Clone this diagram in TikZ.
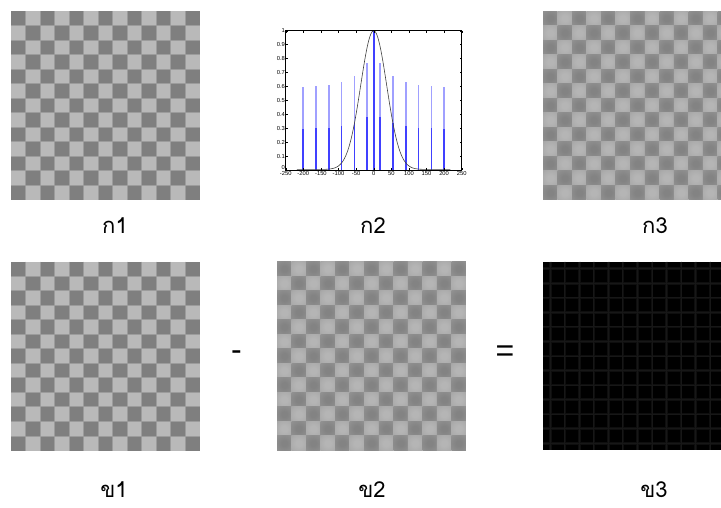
\documentclass[tikz,border=0pt]{standalone}
\usepackage{fontspec}
\setmainfont{Liberation Sans}
\newfontfamily\thaifont[Script=Thai]{Loma}
\definecolor{chkD}{HTML}{7F7F7F}
\definecolor{chkL}{HTML}{B9B9B9}
\definecolor{chkM}{HTML}{9C9C9C}
\definecolor{bD}{HTML}{838383}
\definecolor{bDm}{HTML}{8D8D8D}
\definecolor{bL}{HTML}{B5B5B5}
\definecolor{bLm}{HTML}{ACACAC}
\definecolor{bM}{HTML}{9C9C9C}
\definecolor{spLc}{HTML}{A0A0FF}
\definecolor{spDc}{HTML}{4040FF}
\definecolor{gridA}{HTML}{0E0E0E}
\definecolor{gridB}{HTML}{171717}
\pgfdeclareradialshading{bdark}{\pgfpoint{0bp}{0bp}}{color(0bp)=(bD); color(10bp)=(bD); color(28bp)=(bDm); color(50bp)=(bM); color(72bp)=(bM)}
\pgfdeclareradialshading{blight}{\pgfpoint{0bp}{0bp}}{color(0bp)=(bL); color(10bp)=(bL); color(28bp)=(bLm); color(50bp)=(bM); color(72bp)=(bM)}
\tikzset{
  lbl/.style={font=\thaifont\fontsize{22}{26}\selectfont, inner sep=0pt},
  opsym/.style={font=\fontsize{32}{36}\selectfont, inner sep=0pt},
  tick/.style={font=\fontsize{5.8}{6}\selectfont, inner sep=0.6pt},
  axisline/.style={line width=0.5pt, black},
  spL/.style={line width=1.6pt, spLc},
  spD/.style={line width=1.6pt, spDc},
  gauss/.style={line width=0.6pt, black!75},
}
\def\sq{14.538}
\begin{document}
\begin{tikzpicture}[x=1pt,y=-1pt]
\useasboundingbox (0,0) rectangle (721,507);
\fill[white] (0,0) rectangle (721,507);
% ---------- sharp checkerboards (k1, kh1)
\foreach \ox/\oy in {11/11, 11/261.5}{
  \begin{scope}
  \fill[chkL] (\ox,\oy) rectangle ++(189,189);
  \foreach \i in {0,...,12}{\foreach \j in {0,...,12}{
    \pgfmathtruncatemacro\p{mod(\i+\j,2)}
    \ifnum\p=0 \fill[chkD] ({\ox+\i*\sq},{\oy+\j*\sq}) rectangle ++(\sq,\sq);\fi
  }}
  \foreach \i in {1,...,12}{
    \draw[chkM, line width=0.9pt] ({\ox+\i*\sq},\oy) -- ++(0,189);
    \draw[chkM, line width=0.9pt] (\ox,{\oy+\i*\sq}) -- ++(189,0);
  }
  \end{scope}
}
% ---------- blurred checkerboards (k3, kh2)
\foreach \ox/\oy in {543/11, 277/261.5}{
  \begin{scope}
  \clip (\ox,\oy) rectangle ({min(\ox+189,721)},{\oy+189});
  \foreach \i in {0,...,12}{\foreach \j in {0,...,12}{
    \pgfmathtruncatemacro\p{mod(\i+\j,2)}
    \ifnum\p=0 \shade[shading=bdark] ({\ox+\i*\sq},{\oy+\j*\sq}) rectangle ++(\sq,\sq);
    \else \shade[shading=blight] ({\ox+\i*\sq},{\oy+\j*\sq}) rectangle ++(\sq,\sq);\fi
  }}
  \end{scope}
}
% ---------- difference image (kh3)
\begin{scope}
  \clip (543,261.5) rectangle (721,449.5);
  \fill[black] (543,261.5) rectangle (721,449.5);
  \foreach \i in {0,...,12}{
    \draw[gridA, line width=2.6pt] ({543+7.27+\i*\sq},261.5) -- ++(0,189);
    \draw[gridA, line width=2.6pt] (543,{261.5+7.27+\i*\sq}) -- ++(189,0);
  }
  \foreach \i in {0,...,12}{
    \draw[gridB, line width=1pt] ({543+7.27+\i*\sq},261.5) -- ++(0,189);
    \draw[gridB, line width=1pt] (543,{261.5+7.27+\i*\sq}) -- ++(189,0);
  }
\end{scope}
% ---------- plot (k2)
\begin{scope}[shift={(373.7,170)}, x=0.352pt, y=139.3pt]
  \foreach \v/\h in {18.2/0.765, 54.6/0.675, 91/0.635, 127.4/0.61, 163.8/0.60, 200.2/0.595}{
    \draw[spL] (\v,0) -- (\v,\h);
    \draw[spL] (-\v,0) -- (-\v,\h);
    \draw[spD] (\v,0) -- (\v,{\h/2});
    \draw[spD] (-\v,0) -- (-\v,{\h/2});
  }
  \draw[spD] (0,0) -- (0,1);
  \draw[gauss] plot[domain=-218:218, samples=140, smooth] (\x,{0.004+0.996*exp(-(\x/52.2)^2)});
  \draw[axisline] (-250,0) rectangle (250,1);
  \foreach \v in {-250,-200,...,250}{
    \draw[axisline, line width=0.35pt] (\v,0) -- (\v,0.016);
    \draw[axisline, line width=0.35pt] (\v,1) -- (\v,0.984);
    \node[tick, anchor=north, yshift=-0.8pt] (xt\v) at (\v,0) {\v};
  }
  \foreach \u/\t in {0.1/0.1, 0.2/0.2, 0.3/0.3, 0.4/0.4, 0.5/0.5, 0.6/0.6, 0.7/0.7, 0.8/0.8, 0.9/0.9, 1/1}{
    \draw[axisline, line width=0.35pt] (-250,\u) -- (-244,\u);
    \draw[axisline, line width=0.35pt] (250,\u) -- (244,\u);
    \node[tick, anchor=east] (yt\t) at (-250,\u) {\t};
  }
  \node[tick, anchor=south east] (yt0) at (-250,0) {0};
\end{scope}
% ---------- labels
\node[lbl, anchor=base] (k1) at (115,233) {ก1};
\node[lbl, anchor=base] (k2) at (373,233) {ก2};
\node[lbl, anchor=base] (k3) at (655,233) {ก3};
\node[lbl, anchor=base] (kh1) at (114,497) {ข1};
\node[lbl, anchor=base] (kh2) at (372,497) {ข2};
\node[lbl, anchor=base] (kh3) at (654,497) {ข3};
\node[opsym] (minus) at (236.5,356) {-};
\node[opsym] (equals) at (505,353.5) {=};
\end{tikzpicture}
\end{document}
